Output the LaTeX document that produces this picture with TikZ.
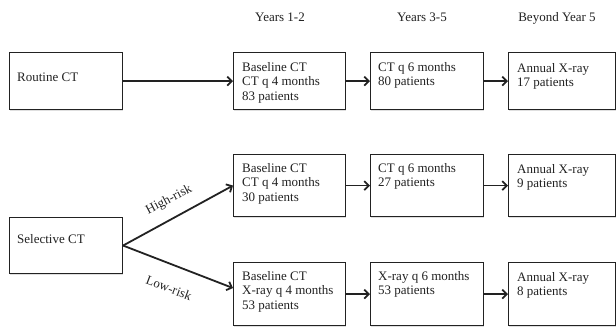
\documentclass[tikz,border=0pt]{standalone}
\usepackage{fontspec}
\setmainfont{Liberation Serif}
\usetikzlibrary{arrows.meta,shadows}
\definecolor{ink}{HTML}{222222}
\begin{document}
\begin{tikzpicture}[x=1pt,y=-1pt,
  box/.style={draw=ink, line width=1.1pt, fill=white, inner sep=0pt, anchor=north west,
    drop shadow={shadow xshift=0.8pt, shadow yshift=-1.4pt, opacity=0.25}},
  txt/.style={anchor=north west, inner sep=0pt, align=left, text=ink,
    font=\fontsize{13}{14.5}\selectfont},
  hdr/.style={anchor=base, inner sep=0pt, text=ink, font=\fontsize{13}{14.5}\selectfont},
  arr/.style={draw=ink, line width=1.8pt, -{Straight Barb[length=4.5pt,width=9pt]}},
  lbl/.style={inner sep=0pt, text=ink, font=\fontsize{13}{14.5}\selectfont}]
\useasboundingbox (0,0) rectangle (616,327);
% headers
\node[hdr] (h1) at (280,21) {Years 1-2};
\node[hdr] (h2) at (422,21) {Years 3-5};
\node[hdr] (h3) at (557,21) {Beyond Year 5};
% row 1
\node[box, minimum width=113pt, minimum height=57pt] (rc) at (9,52) {};
\node[box, minimum width=112pt, minimum height=57pt] (a1) at (233,52) {};
\node[box, minimum width=113pt, minimum height=57pt] (b1) at (370,52) {};
\node[box, minimum width=107pt, minimum height=57pt] (c1) at (508,52) {};
% row 2
\node[box, minimum width=112pt, minimum height=62pt] (a2) at (233,154) {};
\node[box, minimum width=113pt, minimum height=62pt] (b2) at (370,154) {};
\node[box, minimum width=107pt, minimum height=62pt] (c2) at (508,154) {};
% selective
\node[box, minimum width=113pt, minimum height=56pt] (sc) at (9,217) {};
% row 3
\node[box, minimum width=112pt, minimum height=63pt] (a3) at (233,262) {};
\node[box, minimum width=113pt, minimum height=63pt] (b3) at (370,262) {};
\node[box, minimum width=107pt, minimum height=63pt] (c3) at (508,262) {};
% texts
\node[txt] (trc) at (17,73) {Routine CT};
\node[txt] (ta1) at (242,62) {Baseline CT\\CT q 4 months\\83 patients};
\node[txt] (tb1) at (378,62) {CT q 6 months\\80 patients};
\node[txt] (tc1) at (517,63) {Annual X-ray\\17 patients};
\node[txt] (ta2) at (242,163) {Baseline CT\\CT q 4 months\\30 patients};
\node[txt] (tb2) at (378,163) {CT q 6 months\\27 patients};
\node[txt] (tc2) at (517,164) {Annual X-ray\\9 patients};
\node[txt] (tsc) at (17,234) {Selective CT};
\node[txt] (ta3) at (242,271) {Baseline CT\\X-ray q 4 months\\53 patients};
\node[txt] (tb3) at (378,271) {X-ray q 6 months\\53 patients};
\node[txt] (tc3) at (517,272) {Annual X-ray\\8 patients};
% arrows
\draw[arr] (rc.east) -- (a1.west);
\draw[arr] (a1.east) -- (b1.west);
\draw[arr] (b1.east) -- (c1.west);
\draw[arr] (a2.east) -- (b2.west);
\draw[arr] (b2.east) -- (c2.west);
\draw[arr] (a3.east) -- (b3.west);
\draw[arr] (b3.east) -- (c3.west);
\draw[arr] (sc.east) -- (a2.west);
\draw[arr] (sc.east) -- ([yshift=6pt]a3.west);
% branch labels
\node[lbl, rotate=27.6] (hr) at (169,200) {High-risk};
\node[lbl, rotate=-20.7] (lr) at (169,288) {Low-risk};
\end{tikzpicture}
\end{document}
